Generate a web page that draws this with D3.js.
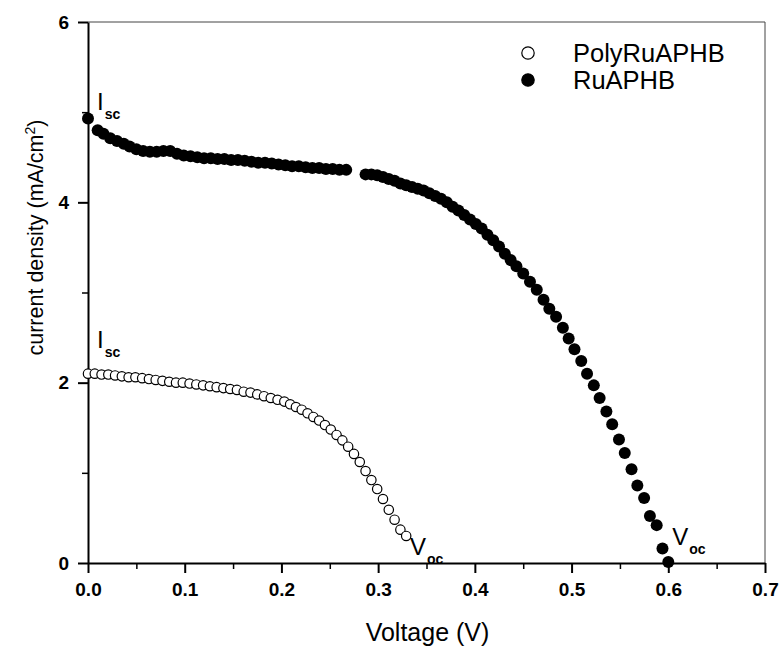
<!DOCTYPE html>
<html>
<head>
<meta charset="utf-8">
<script src="https://cdn.jsdelivr.net/npm/d3@7"></script>
<style>
  body { margin: 0; background: #fff; }
  svg { font-family: Arial, "Liberation Sans", sans-serif; }
</style>
</head>
<body>
<svg id="chart" width="783" height="649"></svg>
<script>
// RuAPHB (filled) — voltage (V) and current density (mA/cm2)
const ruV = [0.000, 0.010, 0.016, 0.023, 0.030, 0.037, 0.043, 0.050, 0.057, 0.064,
  0.071, 0.078, 0.085, 0.092, 0.099, 0.106, 0.113, 0.120, 0.127, 0.134,
  0.141, 0.148, 0.155, 0.162, 0.169, 0.176, 0.183, 0.190, 0.197, 0.204,
  0.211, 0.218, 0.225, 0.232, 0.239, 0.246, 0.253, 0.260, 0.267,
  0.287, 0.293, 0.299, 0.305, 0.311, 0.317, 0.323, 0.329, 0.335, 0.341,
  0.347, 0.353, 0.359, 0.365, 0.371, 0.377, 0.383, 0.389, 0.395, 0.401,
  0.407, 0.413, 0.419, 0.425, 0.431, 0.437, 0.443, 0.450, 0.457, 0.464,
  0.471, 0.477, 0.484, 0.491, 0.497, 0.503, 0.510, 0.516, 0.523, 0.529,
  0.536, 0.542, 0.549, 0.555, 0.562, 0.568, 0.575, 0.581, 0.588, 0.594, 0.600];
const ruJ = [4.93, 4.80, 4.76, 4.71, 4.68, 4.65, 4.62, 4.59, 4.57, 4.56,
  4.56, 4.57, 4.57, 4.54, 4.52, 4.51, 4.50, 4.49, 4.49, 4.48,
  4.48, 4.47, 4.47, 4.46, 4.45, 4.44, 4.44, 4.43, 4.42, 4.41,
  4.40, 4.40, 4.39, 4.38, 4.38, 4.37, 4.37, 4.36, 4.36,
  4.31, 4.31, 4.30, 4.28, 4.26, 4.24, 4.21, 4.19, 4.17, 4.15,
  4.13, 4.10, 4.07, 4.04, 4.00, 3.95, 3.91, 3.86, 3.81, 3.76,
  3.71, 3.64, 3.58, 3.51, 3.43, 3.36, 3.29, 3.21, 3.12, 3.03,
  2.92, 2.82, 2.73, 2.61, 2.49, 2.37, 2.24, 2.10, 1.97, 1.83,
  1.68, 1.54, 1.37, 1.22, 1.04, 0.86, 0.72, 0.52, 0.42, 0.16, 0.01];

// PolyRuAPHB (open)
const polyV = [0.000, 0.007, 0.014, 0.021, 0.028, 0.035, 0.042, 0.049, 0.056, 0.063,
  0.070, 0.077, 0.084, 0.091, 0.098, 0.105, 0.112, 0.119, 0.126, 0.133,
  0.140, 0.147, 0.154, 0.161, 0.168, 0.175, 0.182, 0.189, 0.196, 0.203,
  0.209, 0.215, 0.221, 0.227, 0.233, 0.239, 0.245, 0.251, 0.257, 0.263,
  0.269, 0.275, 0.281, 0.287, 0.293, 0.299, 0.305, 0.311, 0.317, 0.323, 0.329];
const polyJ = [2.10, 2.10, 2.09, 2.09, 2.08, 2.07, 2.06, 2.06, 2.05, 2.04,
  2.03, 2.02, 2.01, 2.00, 2.00, 1.99, 1.98, 1.97, 1.96, 1.95,
  1.94, 1.93, 1.92, 1.90, 1.89, 1.87, 1.85, 1.83, 1.81, 1.79,
  1.76, 1.73, 1.70, 1.66, 1.62, 1.58, 1.53, 1.48, 1.42, 1.36,
  1.29, 1.21, 1.12, 1.02, 0.92, 0.82, 0.71, 0.59, 0.48, 0.37, 0.30];

const seriesNames = ["PolyRuAPHB", "RuAPHB"];
const xTicks = [0, 0.1, 0.2, 0.3, 0.4, 0.5, 0.6, 0.7];
const xMinor = [0.05, 0.15, 0.25, 0.35, 0.45, 0.55, 0.65];
const yTicks = [0, 2, 4, 6];
const yMinor = [1, 3, 5];

const svg = d3.select('#chart');
const margin = { left: 88, top: 22, right: 18, bottom: 86 };
const width = 783, height = 649;

const x = d3.scaleLinear().domain([0, 0.7]).range([margin.left, width - margin.right]);
const y = d3.scaleLinear().domain([0, 6]).range([height - margin.bottom, margin.top]);

// frame (top / right)
svg.append('path')
  .attr('d', `M${x(0)},${y(6)}H${x(0.7)}V${y(0)}`)
  .attr('fill', 'none').attr('stroke', '#444').attr('stroke-width', 1);

// minor ticks
svg.append('g')
  .attr('transform', `translate(0,${y(0)})`)
  .call(d3.axisBottom(x).tickValues(xMinor).tickSize(6).tickFormat(''))
  .call(g => g.select('.domain').remove())
  .selectAll('line').attr('stroke-width', 1.5);
svg.append('g')
  .attr('transform', `translate(${x(0)},0)`)
  .call(d3.axisLeft(y).tickValues(yMinor).tickSize(6).tickFormat(''))
  .call(g => g.select('.domain').remove())
  .selectAll('line').attr('stroke-width', 1.5);

// major axes
const xAxis = svg.append('g')
  .attr('transform', `translate(0,${y(0)})`)
  .call(d3.axisBottom(x).tickValues(xTicks).tickSize(10).tickSizeOuter(0).tickPadding(10).tickFormat(d3.format('.1f')));
const yAxis = svg.append('g')
  .attr('transform', `translate(${x(0)},0)`)
  .call(d3.axisLeft(y).tickValues(yTicks).tickSize(10).tickSizeOuter(0).tickPadding(9).tickFormat(d3.format('d')));

[xAxis, yAxis].forEach(g => {
  g.select('.domain').attr('stroke-width', 2);
  g.selectAll('line').attr('stroke-width', 2);
  g.selectAll('text')
    .attr('font-size', 19)
    .attr('font-weight', 'bold')
    .attr('font-family', 'Arial, "Liberation Sans", sans-serif')
    .attr('fill', '#000');
});

// axis titles
svg.append('text')
  .attr('x', (x(0) + x(0.7)) / 2 + 1)
  .attr('y', 641)
  .attr('text-anchor', 'middle')
  .attr('font-size', 25)
  .text('Voltage (V)');

const yt = svg.append('text')
  .attr('transform', `translate(43,${(y(0) + y(6)) / 2 - 55}) rotate(-90)`)
  .attr('text-anchor', 'middle')
  .attr('font-size', 21.5);
yt.append('tspan').text('current density (mA/cm');
yt.append('tspan').attr('dy', -8).attr('font-size', 14).text('2');
yt.append('tspan').attr('dy', 8).text(')');

// data
const ruData = ruV.map((v, i) => ({ v: v, j: ruJ[i] }));
const polyData = polyV.map((v, i) => ({ v: v, j: polyJ[i] }));

svg.append('g').selectAll('circle')
  .data(polyData)
  .join('circle')
  .attr('cx', d => x(d.v))
  .attr('cy', d => y(d.j))
  .attr('r', 4.7)
  .attr('fill', '#fff')
  .attr('stroke', '#000')
  .attr('stroke-width', 1.2);

svg.append('g').selectAll('circle')
  .data(ruData)
  .join('circle')
  .attr('cx', d => x(d.v))
  .attr('cy', d => y(d.j))
  .attr('r', 6)
  .attr('fill', '#000');

// annotations
function subLabel(px, py, main, sub) {
  const t = svg.append('text').attr('x', px).attr('y', py);
  t.append('tspan').attr('font-size', 24).text(main);
  t.append('tspan').attr('font-size', 14).attr('font-weight', 'bold').attr('dx', 1).attr('dy', 9).text(sub);
}
subLabel(x(0) + 9, y(4.93) - 8, 'I', 'sc');
subLabel(x(0) + 9, y(2.10) - 26, 'I', 'sc');
subLabel(x(0.333), y(0) - 8, 'V', 'oc');
subLabel(x(0.604), y(0) - 18, 'V', 'oc');

// legend
const legend = svg.append('g');
seriesNames.forEach((name, i) => {
  const ly = 53 + i * 27;
  legend.append('circle')
    .attr('cx', 528).attr('cy', ly)
    .attr('r', 6.2)
    .attr('fill', i === 0 ? '#fff' : '#000')
    .attr('stroke', '#000').attr('stroke-width', 1.2);
  legend.append('text')
    .attr('x', 573).attr('y', ly)
    .attr('dy', '0.36em')
    .attr('font-size', 25.5)
    .text(name);
});
</script>
</body>
</html>
